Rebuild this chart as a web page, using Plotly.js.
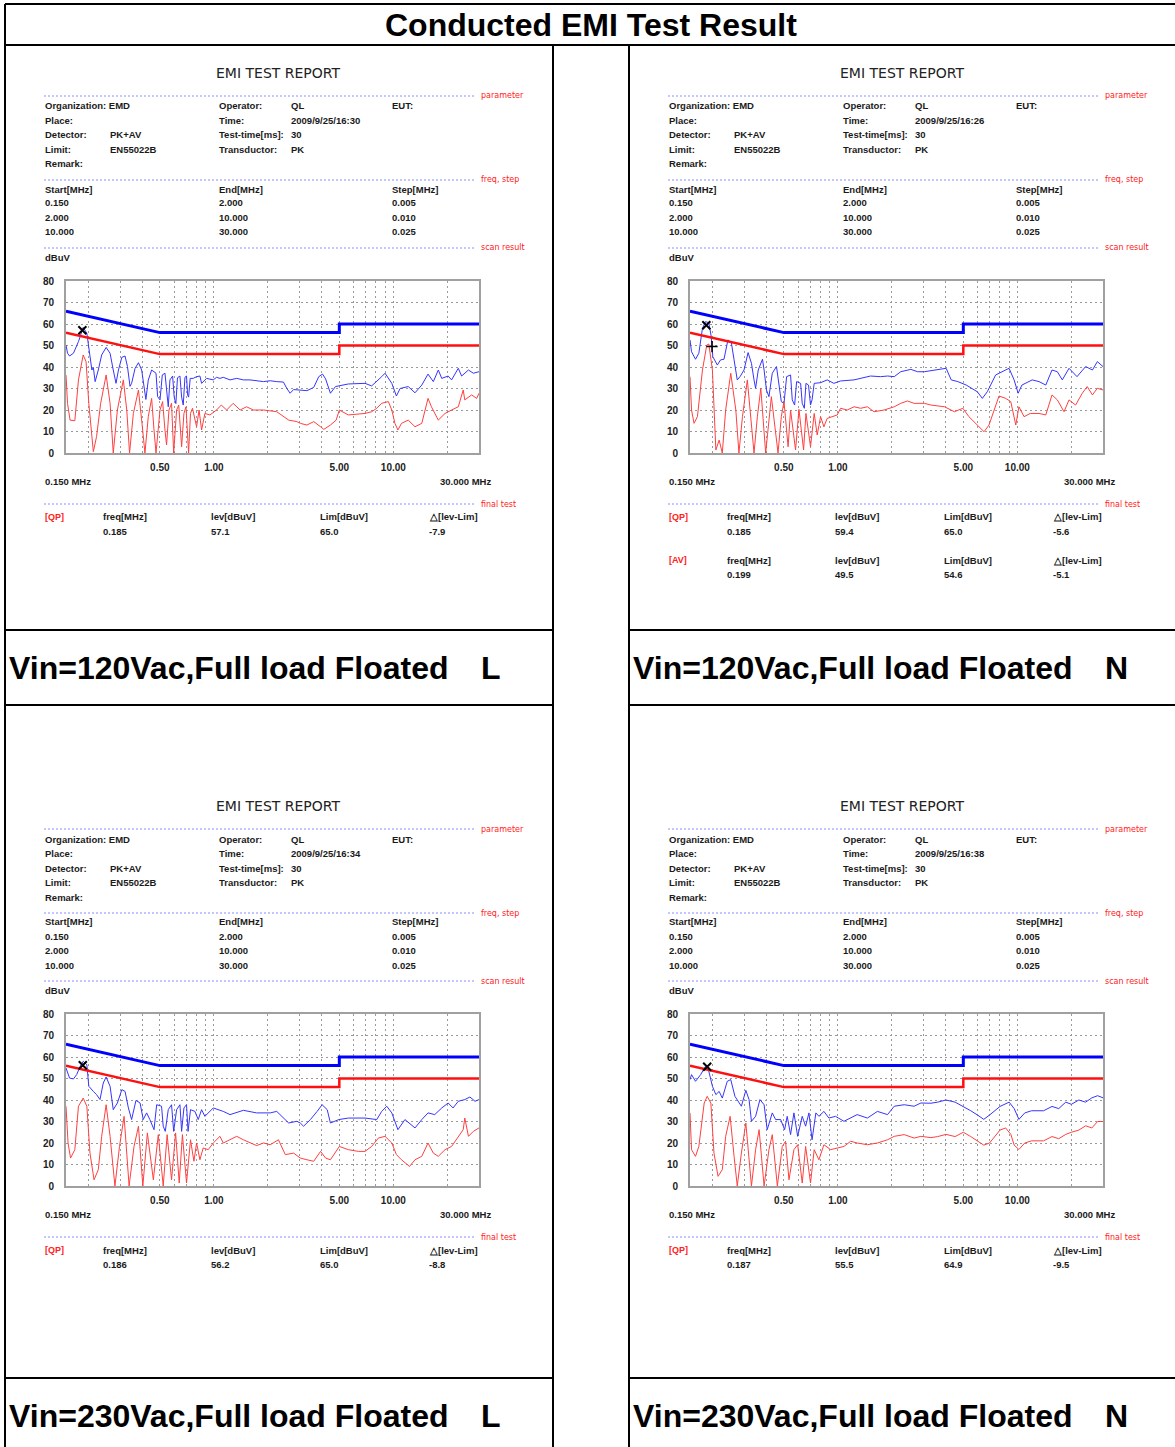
<!DOCTYPE html>
<html><head><meta charset="utf-8">
<script src="https://cdn.plot.ly/plotly-3.0.1.min.js"></script>
<style>html,body{margin:0;padding:0;background:#fff}#chart{width:1175px;height:1447px}</style>
</head><body><div id="chart"></div><script>
// ---------- data ----------
const limitFreq = [0.15, 0.5, 5, 5, 30];
const qpLimit   = [66, 56, 56, 60, 60];
const avLimit   = [56, 46, 46, 50, 50];

const gridFreq = [0.2,0.3,0.4,0.5,0.6,0.7,0.8,0.9,1,2,3,4,5,6,7,8,9,10,20];
const labeledFreq = [0.5, 1, 5, 10];
const labeledText = ['0.50', '1.00', '5.00', '10.00'];
const yTicks = [0,10,20,30,40,50,60,70,80];

const panelTitles = ['Vin=120Vac,Full load Floated', 'Vin=120Vac,Full load Floated', 'Vin=230Vac,Full load Floated', 'Vin=230Vac,Full load Floated'];
const panelLines = ['L', 'N', 'L', 'N'];
const panelTimes = ['2009/9/25/16:30', '2009/9/25/16:26', '2009/9/25/16:34', '2009/9/25/16:38'];
const scanStart = ['0.150', '2.000', '10.000'];
const scanEnd   = ['2.000', '10.000', '30.000'];
const scanStep  = ['0.005', '0.010', '0.025'];
const qpFreq = [0.185, 0.185, 0.186, 0.187];
const qpLev  = [57.1, 59.4, 56.2, 55.5];
const qpLim  = [65.0, 65.0, 65.0, 64.9];
const qpDelta = [-7.9, -5.6, -8.8, -9.5];
const avPanel = 1;
const avFreq = 0.199, avLev = 49.5, avLim = 54.6, avDelta = -5.1;

// Panel 1: 120 Vac, L
const p1BlueFreq = [0.150,0.153,0.157,0.165,0.176,0.187,0.196,0.204,0.209,0.213,0.218,0.227,0.237,0.251,0.264,0.275,0.285,0.294,0.307,0.320,0.330,0.341,0.348,0.364,0.380,0.396,0.408,0.418,0.431,0.450,0.476,0.486,0.501,0.516,0.534,0.545,0.557,0.569,0.589,0.601,0.614,0.627,0.647,0.661,0.675,0.690,0.704,0.714,0.723,0.738,0.767,0.801,0.836,0.854,0.872,0.911,0.992,1.035,1.081,1.128,1.23,1.34,1.46,1.59,1.89,2.06,2.24,2.44,2.55,2.66,2.78,3.03,3.30,3.60,3.84,4.03,4.19,4.46,4.76,5.61,6.95,7.57,8.08,8.61,8.99,9.80,10.4,10.9,12.1,13.2,14.4,15.6,16.7,17.8,18.6,20.2,21.1,23.0,24.0,26.2,27.9,30.0];
const p1BlueLev  = [50.2,46.4,45.1,46.4,51.8,58.4,55.7,45.0,38.6,39.8,33.2,38.6,45.6,49.1,46.4,38.6,32.4,38.6,44.5,45.1,40.2,31.0,32.4,39.4,42.0,38.6,30.9,24.9,33.9,38.6,37.1,26.2,24.7,36.3,37.1,28.0,21.5,34.0,35.8,26.0,23.0,35.0,35.8,26.0,22.3,35.2,35.8,27.0,26.0,34.7,34.7,35.5,35.8,32.4,33.2,34.7,34.0,35.2,34.7,35.2,34.0,34.7,34.0,34.0,33.2,33.6,33.2,33.0,30.0,27.8,29.5,29.3,29.0,30.5,35.5,36.7,34.5,27.8,30.9,32.1,32.4,31.2,33.2,35.5,37.1,32.4,26.5,30.0,30.9,28.0,31.6,36.7,33.2,38.6,34.7,35.8,34.0,39.4,35.8,38.6,37.1,37.8];
const p1RedFreq  = [0.150,0.153,0.158,0.168,0.176,0.187,0.194,0.201,0.213,0.222,0.234,0.251,0.264,0.275,0.290,0.313,0.327,0.339,0.356,0.380,0.396,0.413,0.431,0.450,0.464,0.476,0.501,0.518,0.534,0.545,0.562,0.581,0.597,0.620,0.637,0.661,0.681,0.699,0.723,0.741,0.760,0.801,0.827,0.854,0.891,0.950,1.035,1.10,1.178,1.28,1.40,1.52,1.66,1.89,2.24,2.44,2.61,2.90,3.03,3.30,3.60,3.93,4.10,4.46,4.80,5.00,5.61,6.95,7.57,8.08,8.61,9.38,9.80,10.2,10.6,11.1,12.1,13.2,14.4,15.6,16.3,17.8,19.4,21.1,23.0,24.5,25.0,27.3,29.1,30.0];
const p1RedLev   = [36.3,23.1,15.3,15.0,34.0,45.6,42.5,23.1,0.6,7.6,23.1,36.3,23.1,0,20.0,34.0,20.0,0,18.4,29.3,15.3,0,16.9,25.4,10.7,0,20.0,23.9,10.7,3.7,20.0,23.1,0,20.0,22.3,2.9,18.4,21.5,0,18.4,20.8,12.2,20.0,10.7,18.4,17.7,20.0,22.3,20.0,23.1,20.0,21.5,20.0,20.0,19.2,16.9,15.3,14.6,13.8,13.0,14.6,12.2,11.0,13.0,15.3,20.0,17.7,18.4,19.2,20.8,23.1,23.9,20.0,13.8,10.7,13.8,15.3,12.2,13.8,25.4,21.5,15.3,18.4,20.0,21.5,29.3,24.7,27.0,25.4,27.8];

// Panel 2: 120 Vac, N
const p2BlueFreq = [0.150,0.153,0.161,0.168,0.176,0.183,0.191,0.197,0.201,0.213,0.222,0.232,0.244,0.255,0.264,0.275,0.285,0.300,0.316,0.330,0.341,0.348,0.360,0.380,0.388,0.400,0.413,0.431,0.455,0.470,0.484,0.501,0.518,0.545,0.557,0.574,0.589,0.620,0.633,0.650,0.664,0.686,0.704,0.718,0.738,0.801,0.872,0.950,1.035,1.23,1.34,1.52,1.73,1.89,2.06,2.24,2.55,2.78,3.03,3.45,3.76,4.01,4.28,4.66,5.19,5.61,5.98,6.38,6.80,7.57,8.25,8.99,9.59,10.1,10.6,12.1,13.2,14.4,15.6,16.7,17.8,19.4,21.5,24.0,26.2,27.9,30.0];
const p2BlueLev  = [52.6,47.1,43.6,46.4,58.0,61.1,60.6,54.1,44.8,40.9,43.3,43.6,52.6,51.3,43.3,34.0,35.5,38.6,46.7,41.7,34.0,30.1,38.6,43.6,38.6,29.3,26.2,37.1,40.2,30.9,23.9,23.1,35.5,36.3,24.7,22.3,33.2,32.4,23.1,20.8,32.4,31.6,22.3,24.7,32.4,32.7,34.0,32.4,33.5,34.0,34.7,35.8,35.5,35.8,35.5,37.8,38.9,37.8,37.8,38.6,38.9,39.4,34.0,33.2,31.6,30.1,28.5,25.4,28.5,36.3,37.8,39.4,34.0,27.8,31.6,34.0,33.2,31.6,38.6,37.8,34.0,39.4,35.5,40.2,38.6,42.5,40.2];
const p2RedFreq  = [0.150,0.153,0.158,0.165,0.176,0.186,0.191,0.200,0.209,0.218,0.227,0.237,0.253,0.270,0.281,0.294,0.313,0.341,0.356,0.372,0.396,0.413,0.426,0.464,0.484,0.501,0.528,0.545,0.581,0.607,0.644,0.664,0.704,0.738,0.767,0.801,0.836,0.872,0.930,0.992,1.035,1.128,1.23,1.34,1.46,1.59,1.81,2.06,2.24,2.44,2.66,3.03,3.30,3.93,4.46,4.97,5.37,5.86,6.52,6.95,7.41,7.90,8.61,9.19,9.80,10.2,10.9,11.8,13.2,14.4,15.6,16.7,18.2,19.4,21.1,23.0,24.5,26.2,27.9,30.0];
const p2RedLev   = [35.5,20.0,13.8,16.9,38.6,50.2,50.7,38.6,1.4,6.0,0,20.0,37.1,20.0,0,16.9,34.0,0,16.9,30.1,0,16.9,26.2,0,16.9,23.9,2.9,20.0,1.4,20.3,1.4,18.4,2.9,18.4,8.4,16.9,12.2,16.1,16.9,17.7,20.8,20.0,21.5,20.8,21.5,19.2,20.0,21.5,23.1,24.2,23.1,23.1,22.3,21.5,19.2,20.8,16.9,13.8,9.9,13.0,20.0,26.5,25.4,23.9,13.0,21.5,16.9,18.4,18.4,17.7,27.0,24.7,19.2,24.7,22.3,27.8,30.9,27.0,30.1,29.3];

// Panel 3: 230 Vac, L
const p3BlueFreq = [0.150,0.157,0.165,0.172,0.180,0.187,0.196,0.201,0.213,0.222,0.232,0.242,0.251,0.264,0.275,0.290,0.307,0.320,0.334,0.348,0.368,0.388,0.404,0.422,0.440,0.464,0.480,0.511,0.522,0.536,0.557,0.581,0.597,0.620,0.647,0.661,0.681,0.704,0.718,0.741,0.784,0.818,0.854,0.891,0.992,1.128,1.23,1.46,1.73,2.06,2.24,2.44,2.61,2.90,3.03,3.16,3.45,3.76,4.01,4.28,4.46,4.97,5.61,6.95,8.08,8.61,9.19,9.80,10.6,11.6,12.3,13.2,14.4,15.6,17.0,18.6,20.2,21.5,23.0,25.0,26.7,28.5,30.0];
const p3BlueLev  = [54.9,50.2,49.8,51.8,55.7,58.0,56.4,46.4,44.0,42.5,40.2,47.9,50.7,46.4,35.5,38.6,44.8,44.0,36.3,30.9,39.8,38.6,30.9,34.0,30.9,26.2,37.8,37.1,27.8,25.4,35.5,37.8,25.4,35.5,37.8,25.4,36.3,37.8,25.4,35.5,34.7,30.9,35.5,32.4,36.3,34.7,33.2,35.2,34.0,34.0,34.7,31.6,29.3,30.1,29.3,27.8,30.9,34.7,37.8,35.5,29.3,30.9,31.6,31.6,30.9,34.7,37.1,34.0,26.2,30.9,29.3,27.0,30.9,34.0,33.2,36.3,38.6,36.3,39.4,40.2,41.4,39.4,40.2];
const p3RedFreq  = [0.150,0.154,0.159,0.168,0.176,0.187,0.196,0.204,0.215,0.227,0.237,0.251,0.264,0.281,0.298,0.316,0.337,0.359,0.380,0.402,0.426,0.460,0.490,0.522,0.549,0.581,0.612,0.641,0.668,0.704,0.741,0.774,0.801,0.836,0.872,0.930,0.992,1.081,1.128,1.23,1.34,1.46,1.59,1.73,1.89,2.06,2.29,2.50,2.78,3.03,3.30,3.60,3.93,4.19,4.46,5.00,5.61,6.38,6.95,7.57,8.25,8.99,9.80,10.4,11.1,12.3,13.2,14.4,15.6,16.7,17.8,19.4,21.1,23.0,24.5,25.0,26.2,27.9,30.0];
const p3RedLev   = [37.1,20.0,13.0,16.9,37.1,40.9,37.1,15.3,2.9,7.6,23.1,37.8,23.1,0,18.4,32.4,0,18.4,27.8,0,24.7,2.9,23.9,0,23.9,2.9,24.7,1.4,23.9,1.4,21.5,11.5,20.0,12.2,17.7,16.9,20.0,23.1,20.0,21.5,23.1,21.5,20.0,18.8,20.0,19.2,21.5,14.6,15.3,13.0,12.2,11.5,16.1,13.0,12.2,18.4,16.9,16.1,16.1,18.4,22.3,23.1,20.0,14.6,12.2,9.1,12.2,13.8,20.0,15.3,13.8,16.9,18.4,23.1,26.2,31.6,23.1,25.4,27.0];

// Panel 4: 230 Vac, N
const p4BlueFreq = [0.150,0.153,0.161,0.172,0.183,0.191,0.200,0.209,0.218,0.227,0.242,0.253,0.267,0.281,0.290,0.307,0.320,0.330,0.348,0.368,0.388,0.404,0.431,0.450,0.480,0.505,0.522,0.545,0.569,0.597,0.633,0.661,0.690,0.718,0.754,0.784,0.836,0.891,0.970,1.081,1.178,1.28,1.46,1.66,1.89,2.06,2.34,2.66,2.90,3.30,3.60,4.00,4.50,5.00,5.50,6.00,6.50,7.00,8.00,9.00,9.60,10.2,11.0,12.0,14.0,15.6,17.0,18.6,20.0,22.0,24.0,26.0,28.0,30.0];
const p4BlueLev  = [49.5,51.8,48.7,51.8,55.7,53.3,46.4,42.5,44.0,40.9,48.7,49.5,41.7,38.6,37.1,44.5,40.2,30.1,32.4,40.2,37.8,26.2,34.0,30.9,30.9,26.2,32.4,23.9,34.0,23.1,32.4,27.8,34.0,21.5,34.0,32.4,34.7,31.6,32.4,30.1,31.6,33.2,31.6,34.7,33.2,37.1,37.8,37.1,38.6,38.5,39.0,40.0,39.0,37.0,35.0,33.0,31.0,33.0,37.0,39.0,36.0,31.0,34.0,35.0,35.0,37.0,36.0,39.0,38.0,40.0,39.0,41.0,42.0,41.0];
const p4RedFreq  = [0.150,0.153,0.161,0.168,0.180,0.187,0.196,0.204,0.215,0.227,0.237,0.251,0.264,0.275,0.290,0.307,0.330,0.348,0.364,0.388,0.413,0.431,0.460,0.490,0.511,0.534,0.569,0.597,0.633,0.661,0.704,0.738,0.784,0.836,0.911,0.992,1.081,1.178,1.28,1.46,1.66,1.89,2.06,2.34,2.66,2.90,3.30,3.60,4.00,4.50,5.00,5.50,6.00,6.50,7.00,7.50,8.00,8.60,9.20,9.60,10.2,11.0,12.0,14.0,15.6,17.0,18.6,20.0,22.0,24.0,26.0,28.0,30.0];
const p4RedLev   = [34.0,16.9,13.8,18.4,38.6,41.7,38.6,15.3,4.5,7.6,23.1,32.4,13.8,0,15.3,29.3,0,16.9,26.2,0,16.9,23.9,0,18.4,20.8,2.9,16.9,19.2,1.4,18.4,1.4,16.9,12.2,19.2,16.9,17.7,18.4,20.8,20.0,19.2,20.0,21.5,23.1,23.9,22.3,23.1,22.5,23.0,24.0,23.0,25.0,23.0,21.0,19.0,20.0,23.0,26.0,27.0,24.0,19.0,17.0,20.0,21.0,21.0,23.0,22.0,24.0,25.0,26.0,28.0,27.0,30.0,30.0];

const panels = [
  {bf:p1BlueFreq, bl:p1BlueLev, rf:p1RedFreq, rl:p1RedLev},
  {bf:p2BlueFreq, bl:p2BlueLev, rf:p2RedFreq, rl:p2RedLev},
  {bf:p3BlueFreq, bl:p3BlueLev, rf:p3RedFreq, rl:p3RedLev},
  {bf:p4BlueFreq, bl:p4BlueLev, rf:p4RedFreq, rl:p4RedLev}
];

// ---------- layout helpers ----------
const W = 1175, H = 1447;
const X = v => v / W, Y = v => 1 - v / H;
const offs = [[0,0],[624,0],[0,733],[624,733]];
const FT = 'Liberation Sans, Arial, sans-serif';
const FH = 'DejaVu Sans, sans-serif';
const annotations = [], shapes = [], traces = [];

function t(x, y, s, o) {
  o = o || {};
  annotations.push({xref:'paper', yref:'paper', x:X(x), y:Y(y), text:s, showarrow:false,
    xanchor:o.a || 'left', yanchor:'middle', borderpad:0,
    font:{family:o.f || FT, size:o.s || 9.5, color:o.c || '#1a1a1a', weight:o.w || 'bold'}});
}
function ln(x0, y0, x1, y1, o) {
  o = o || {};
  shapes.push({type:'line', xref:'paper', yref:'paper', x0:X(x0), y0:Y(y0), x1:X(x1), y1:Y(y1),
    line:{color:o.c || '#000', width:o.w || 2, dash:o.d || 'solid'}});
}

// table frame
ln(5, 4, 1175, 4); ln(5, 4, 5, 1447); ln(5, 45, 1175, 45);
ln(553, 45, 553, 1447); ln(629, 45, 629, 1447);
[630, 705, 1378].forEach(y => { ln(5, y, 553, y); ln(629, y, 1175, y); });
t(591, 25, 'Conducted EMI Test Result', {a:'center', s:32, c:'#000'});
const labelY = [668, 668, 1416, 1416];
const labelX = [8, 632, 8, 632];

const layout = {width:W, height:H, margin:{l:0, r:0, t:0, b:0}, paper_bgcolor:'#fff', plot_bgcolor:'#fff',
  showlegend:false, annotations, shapes};

const red = '#ff2020';
panels.forEach((p, i) => {
  const [dx, dy] = offs[i];
  const sfx = i ? String(i + 1) : '';
  // header text
  t(278 + dx, 73 + dy, 'EMI TEST REPORT', {a:'center', f:FH, s:14, w:'normal', c:'#222'});
  [[96, 'parameter'], [180, 'freq, step'], [248, 'scan result'], [504, 'final test']].forEach(([y, s]) => {
    ln(44 + dx, y + dy, 476 + dx, y + dy, {c:'#8c8cff', w:1, d:'2px,2px'});
    t(480 + dx, y + dy, s, {f:FH, s:8, w:'normal', c:red});
  });
  const rows = [
    [44,106,'Organization: EMD'],[218,106,'Operator:'],[290,106,'QL'],[391,106,'EUT:'],
    [44,120,'Place:'],[218,120,'Time:'],[290,120,panelTimes[i]],
    [44,135,'Detector:'],[109,135,'PK+AV'],[218,135,'Test-time[ms]:'],[290,135,'30'],
    [44,149,'Limit:'],[109,149,'EN55022B'],[218,149,'Transductor:'],[290,149,'PK'],
    [44,164,'Remark:'],
    [44,189,'Start[MHz]'],[218,189,'End[MHz]'],[391,189,'Step[MHz]'],
    [44,257,'dBuV'],
    [44,481,'0.150 MHz'],[439,481,'30.000 MHz']
  ];
  scanStart.forEach((s, k) => {
    rows.push([44, 203 + k * 14.5, s], [218, 203 + k * 14.5, scanEnd[k]], [391, 203 + k * 14.5, scanStep[k]]);
  });
  const resHead = (y, tag) => {
    t(44 + dx, y + dy, tag, {c:red, s:9});
    rows.push([102, y, 'freq[MHz]'], [210, y, 'lev[dBuV]'], [319, y, 'Lim[dBuV]'], [428, y, '\u25B3[lev-Lim]']);
  };
  resHead(517, '[QP]');
  rows.push([102,531,qpFreq[i].toFixed(3)],[210,531,qpLev[i].toFixed(1)],[319,531,qpLim[i].toFixed(1)],[428,531,qpDelta[i].toFixed(1)]);
  if (i === avPanel) {
    resHead(560, '[AV]');
    rows.push([102,575,avFreq.toFixed(3)],[210,575,avLev.toFixed(1)],[319,575,avLim.toFixed(1)],[428,575,avDelta.toFixed(1)]);
  }
  rows.forEach(([x, y, s]) => t(x + dx, y + dy, s));

  // bottom label
  t(labelX[i], labelY[i], panelTitles[i], {s:32, c:'#000'});
  t(labelX[i] + 472, labelY[i], panelLines[i], {s:32, c:'#000'});

  // axes
  const tickfont = {family:FT, size:10, color:'#222', weight:'bold'};
  layout['xaxis' + sfx] = {type:'log', domain:[X(66 + dx), X(479 + dx)], range:[Math.log10(0.15), Math.log10(30)],
    anchor:'y' + sfx, tickmode:'array', tickvals:gridFreq,
    ticktext:gridFreq.map(f => { const k = labeledFreq.indexOf(f); return k >= 0 ? labeledText[k] : ''; }),
    ticks:'', showgrid:true, gridcolor:'#9a9a9a', griddash:'2px,3px', gridwidth:1,
    showline:true, mirror:true, linecolor:'#a0a0a0', linewidth:2, zeroline:false,
    tickfont, ticklabelstandoff:4, fixedrange:true};
  layout['yaxis' + sfx] = {domain:[Y(453 + dy), Y(281 + dy)], range:[0, 80], anchor:'x' + sfx,
    tickmode:'array', tickvals:yTicks, ticks:'', showgrid:true, gridcolor:'#9a9a9a', griddash:'2px,3px', gridwidth:1,
    showline:true, mirror:true, linecolor:'#a0a0a0', linewidth:2, zeroline:false,
    tickfont, ticklabelstandoff:8, fixedrange:true};

  const ax = {xaxis:'x' + sfx, yaxis:'y' + sfx, hoverinfo:'skip'};
  traces.push(Object.assign({x:p.bf, y:p.bl, mode:'lines', line:{color:'#3535ff', width:1}}, ax));
  traces.push(Object.assign({x:p.rf, y:p.rl, mode:'lines', line:{color:'#ff4040', width:1}}, ax));
  traces.push(Object.assign({x:limitFreq, y:qpLimit, mode:'lines', line:{color:'#0000ff', width:3}}, ax));
  traces.push(Object.assign({x:limitFreq, y:avLimit, mode:'lines', line:{color:'#ff1010', width:2.5}}, ax));
  traces.push(Object.assign({x:[qpFreq[i]], y:[qpLev[i]], mode:'markers',
    marker:{symbol:'x-thin-open', size:8, color:'#000', line:{width:2, color:'#000'}}}, ax));
  if (i === avPanel) {
    traces.push(Object.assign({x:[avFreq], y:[avLev], mode:'markers',
      marker:{symbol:'cross-thin-open', size:8, color:'#000', line:{width:1.5, color:'#000'}}}, ax));
  }
});

Plotly.newPlot('chart', traces, layout, {staticPlot:true, displayModeBar:false});
</script></body></html>
